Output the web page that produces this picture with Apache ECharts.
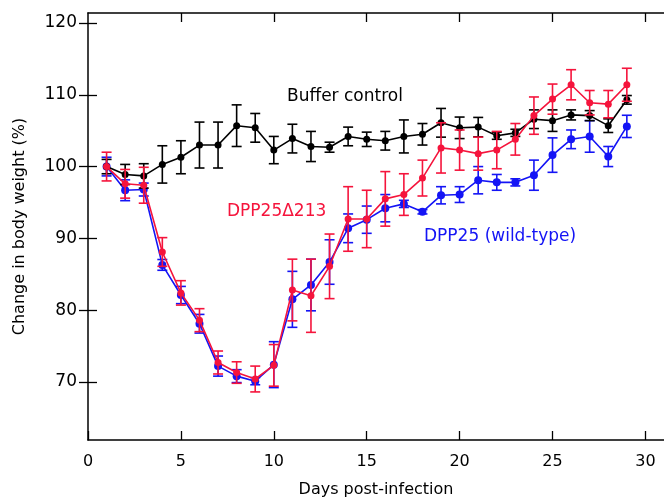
<!DOCTYPE html>
<html>
<head>
<meta charset="utf-8">
<script src="https://cdn.jsdelivr.net/npm/echarts@6/dist/echarts.min.js"></script>
<style>html,body{margin:0;padding:0;background:#fff}#c{width:664px;height:500px}</style>
</head>
<body>
<div id="c"></div>
<script>
const days = [1,2,3,4,5,6,7,8,9,10,11,12,13,14,15,16,17,18,19,20,21,22,23,24,25,26,27,28,29];
const bufferMean = [100,98.9,98.7,100.3,101.3,103.0,103.0,105.7,105.4,102.3,103.9,102.8,102.7,104.2,103.8,103.6,104.2,104.5,106.1,105.4,105.5,104.3,104.7,106.6,106.4,107.2,107.1,105.7,109.3];
const bufferErr = [1.0,1.4,1.7,2.6,2.3,3.2,3.2,2.9,2.0,1.9,2.0,2.1,0.7,1.3,1.0,1.3,2.3,1.5,2.0,1.5,1.35,0.5,0.5,1.3,1.5,0.7,0.7,0.95,0.6];
const mutMean = [100,97.6,97.4,88.1,82.4,78.6,72.7,71.3,70.4,72.3,82.8,82.0,86.1,92.7,92.7,95.5,96.1,98.4,102.6,102.3,101.8,102.3,103.8,107.1,109.4,111.4,108.9,108.7,111.4];
const mutErr = [2.0,2.0,2.5,2.0,1.7,1.6,1.6,1.5,1.8,2.9,4.3,5.1,4.5,4.5,4.0,3.8,2.9,2.5,3.5,2.8,2.3,2.6,2.2,2.6,2.1,2.1,1.7,1.9,2.3];
const wtMean = [100,96.7,96.8,86.3,82.1,78.1,72.2,70.8,70.1,72.4,81.5,83.5,86.7,91.4,92.6,94.2,94.8,93.7,96.0,96.1,98.1,97.8,97.8,98.8,101.6,103.8,104.2,101.4,105.6];
const wtErr = [1.3,1.45,0.9,0.75,1.2,1.3,1.4,0.9,0.5,3.2,3.9,3.6,3.1,2.0,1.9,1.9,0.5,0.3,1.2,1.1,1.9,1.1,0.5,2.1,2.4,1.3,2.2,1.4,1.55];
const xTicks = [0,5,10,15,20,25,30];
const yTicks = [70,80,90,100,110,120];

const FONT = 'DejaVu Sans';
const BLUE = '#1414f5', RED = '#f5143c', BLACK = '#000000';

function pairs(m){ return days.map((d,i)=>[d,m[i]]); }
function errData(m,e){ return days.map((d,i)=>[d,m[i]-e[i],m[i]+e[i]]); }
function errSeries(name,m,e,color,z){
  return {
    type:'custom', name:name, z:z, silent:true,
    data: errData(m,e),
    renderItem:function(params,api){
      const x = api.value(0);
      const lo = api.coord([x,api.value(1)]);
      const hi = api.coord([x,api.value(2)]);
      const w = 5;
      const st = {stroke:color, lineWidth:1.6};
      return {type:'group', children:[
        {type:'line', shape:{x1:lo[0],y1:lo[1],x2:hi[0],y2:hi[1]}, style:st},
        {type:'line', shape:{x1:lo[0]-w,y1:lo[1],x2:lo[0]+w,y2:lo[1]}, style:st},
        {type:'line', shape:{x1:hi[0]-w,y1:hi[1],x2:hi[0]+w,y2:hi[1]}, style:st}
      ]};
    }
  };
}
function lineSeries(name,m,color,size,z){
  return {type:'line', name:name, z:z, data:pairs(m), symbol:'circle', symbolSize:size,
    itemStyle:{color:color}, lineStyle:{color:color,width:1.6}, animation:false};
}

const chart = echarts.init(document.getElementById('c'));
const axisCommon = {lineStyle:{color:'#000',width:1.5}};
chart.setOption({
  animation:false,
  backgroundColor:'#fff',
  grid:{left:88,right:0,top:13,bottom:60,containLabel:false,outerBoundsMode:'none'},
  xAxis:[
    {type:'value',min:0,max:31,position:'bottom',
     axisLine:axisCommon, splitLine:{show:false},
     axisTick:{inside:true,length:9,lineStyle:{color:'#000',width:1.3},customValues:xTicks},
     axisLabel:{customValues:xTicks,fontFamily:FONT,fontSize:16,color:'#000',margin:14},
     name:'Days post-infection',nameLocation:'middle',nameGap:42,
     nameTextStyle:{fontFamily:FONT,fontSize:16,color:'#000'}},
    {type:'value',min:0,max:31,position:'top',
     axisLine:axisCommon, splitLine:{show:false},
     axisTick:{inside:true,length:9,lineStyle:{color:'#000',width:1.3},customValues:xTicks.slice(1)},
     axisLabel:{show:false}}
  ],
  yAxis:[
    {type:'value',min:61.9,max:121.4,position:'left',
     axisLine:axisCommon, splitLine:{show:false},
     axisTick:{inside:true,length:9,lineStyle:{color:'#000',width:1.3},customValues:yTicks},
     axisLabel:{customValues:yTicks,fontFamily:FONT,fontSize:17,color:'#000',margin:11},
     name:'Change in body weight (%)',nameLocation:'middle',nameGap:60,nameRotate:90,
     nameTextStyle:{fontFamily:FONT,fontSize:16,color:'#000'}},
    {type:'value',min:61.9,max:121.4,position:'right',
     axisLine:{show:false}, splitLine:{show:false},
     axisTick:{show:true,inside:true,length:9,lineStyle:{color:'#000',width:1.3},customValues:yTicks},
     axisLabel:{show:false}}
  ],
  series:[
    errSeries('wtErr',wtMean,wtErr,BLUE,2),
    lineSeries('DPP25 (wild-type)',wtMean,BLUE,8,3),
    errSeries('bufErr',bufferMean,bufferErr,BLACK,4),
    lineSeries('Buffer control',bufferMean,BLACK,7,5),
    errSeries('mutErr',mutMean,mutErr,RED,6),
    lineSeries('DPP25\u0394213',mutMean,RED,7,7)
  ],
  graphic:[
    {type:'text',left:287,top:88,style:{text:'Buffer control',fontFamily:FONT,fontSize:17,fill:BLACK}},
    {type:'text',left:227,top:203,style:{text:'DPP25\u0394213',fontFamily:FONT,fontSize:17,fill:RED}},
    {type:'text',left:424,top:228,style:{text:'DPP25 (wild-type)',fontFamily:FONT,fontSize:17,fill:BLUE}}
  ]
});
</script>
</body>
</html>
